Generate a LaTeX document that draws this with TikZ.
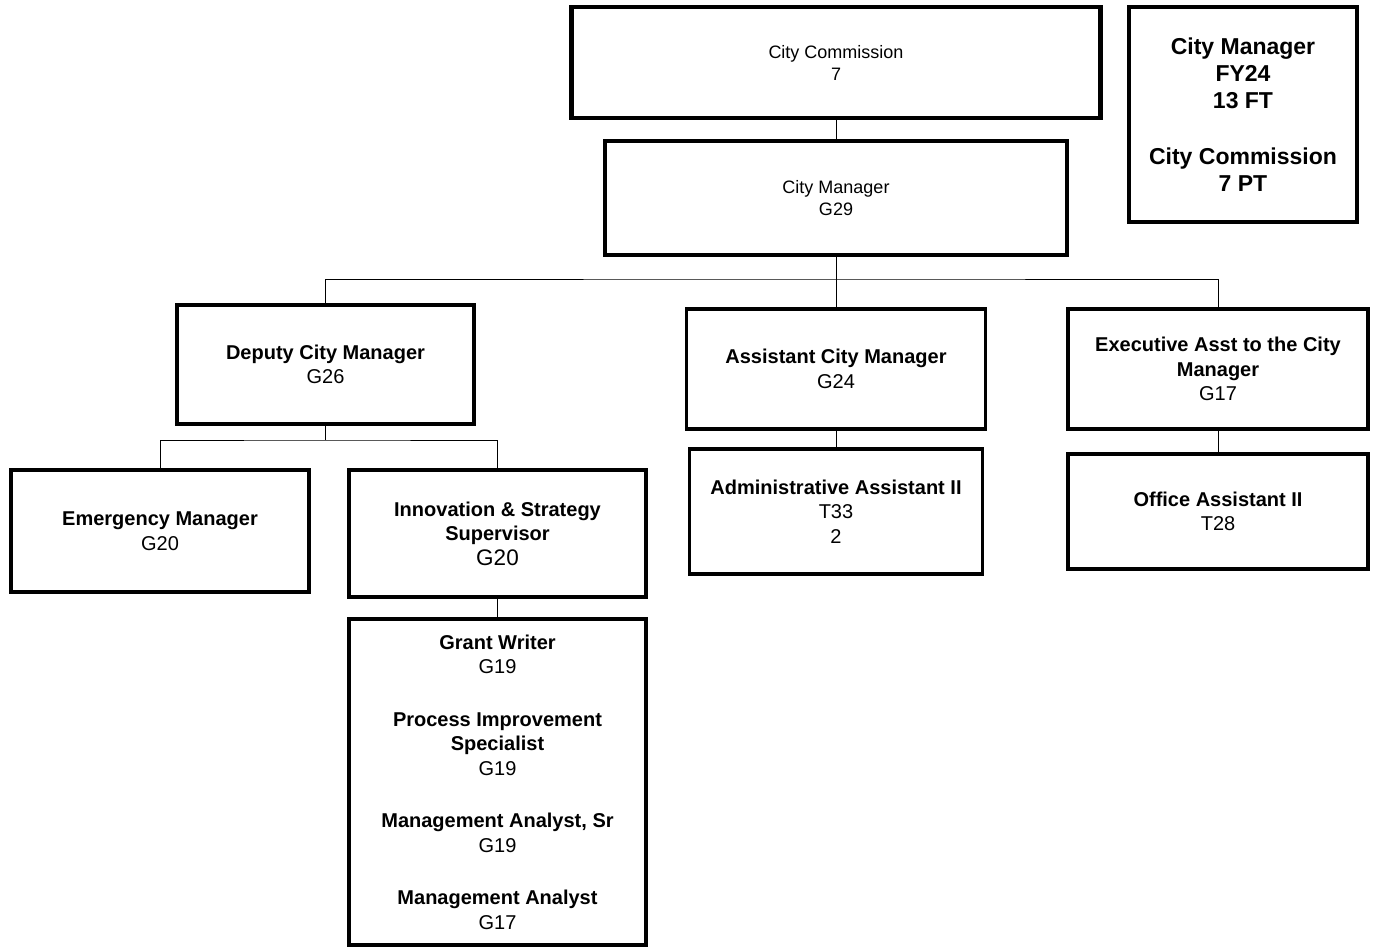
\documentclass[tikz,border=0pt]{standalone}
\usepackage{fontspec}
\setmainfont{Liberation Sans}
\begin{document}
\begin{tikzpicture}[x=1pt,y=-1pt,
  box/.style={draw, line width=3.2pt, inner sep=0pt, align=center,
    font=\fontsize{20}{24.5}\selectfont},
  topbox/.style={box, font=\fontsize{18}{22}\selectfont},
  conn/.style={line width=0.9pt}]
\useasboundingbox (0,0) rectangle (1376,947);
% top level
\node[topbox, line width=4.2pt, minimum width=529pt, minimum height=111pt] (cc) at (836,62.5) {City Commission\\7};
\node[topbox, minimum width=462pt, minimum height=114pt] (cm) at (836,198) {City Manager\\G29};
\node[box, minimum width=228pt, minimum height=215pt, font=\bfseries\fontsize{23}{27}\selectfont] (legend) at (1243,114.5)
  {City Manager\\FY24\\13 FT\\[29pt]City Commission\\7 PT};
% second level
\node[box, minimum width=297pt, minimum height=119pt] (dcm) at (325.5,364.5) {\textbf{Deputy City Manager}\\G26};
\node[box, minimum width=299pt, minimum height=120pt] (acm) at (836,369) {\textbf{Assistant City Manager}\\G24};
\node[box, minimum width=300pt, minimum height=120pt] (exec) at (1218,369) {\textbf{Executive Asst to the City}\\\textbf{Manager}\\G17};
% third level
\node[box, minimum width=298pt, minimum height=122pt] (em) at (160,531) {\textbf{Emergency Manager}\\G20};
\node[box, minimum width=297pt, minimum height=127pt] (inn) at (497.5,533.5) {\textbf{Innovation \& Strategy}\\\textbf{Supervisor}\\{\fontsize{22.5}{26}\selectfont G20}};
\node[box, minimum width=293pt, minimum height=125pt] (admin) at (836,511.5) {\textbf{Administrative Assistant II}\\T33\\2};
\node[box, minimum width=300pt, minimum height=115pt] (office) at (1218,511.5) {\textbf{Office Assistant II}\\T28};
% fourth level
\node[box, minimum width=297pt, minimum height=326pt] (grant) at (497.5,782)
  {\textbf{Grant Writer}\\G19\\[28pt]\textbf{Process Improvement}\\\textbf{Specialist}\\G19\\[28pt]\textbf{Management Analyst, Sr}\\G19\\[28pt]\textbf{Management Analyst}\\G17};
% connectors
\coordinate (b1) at (836,279);
\coordinate (b2) at (325.5,440);
\draw[conn] (cc.south) -- (cm.north);
\draw[conn] (cm.south) -- (b1);
\draw[conn] (dcm.north) |- (b1) -| (exec.north);
\draw[conn] (b1) -- (acm.north);
\draw[conn] (dcm.south) -- (b2);
\draw[conn] (em.north) |- (b2) -| (inn.north);
\draw[conn] (inn.south) -- (grant.north);
\draw[conn] (acm.south) -- (admin.north);
\draw[conn] (exec.south) -- (office.north);
\end{tikzpicture}
\end{document}
